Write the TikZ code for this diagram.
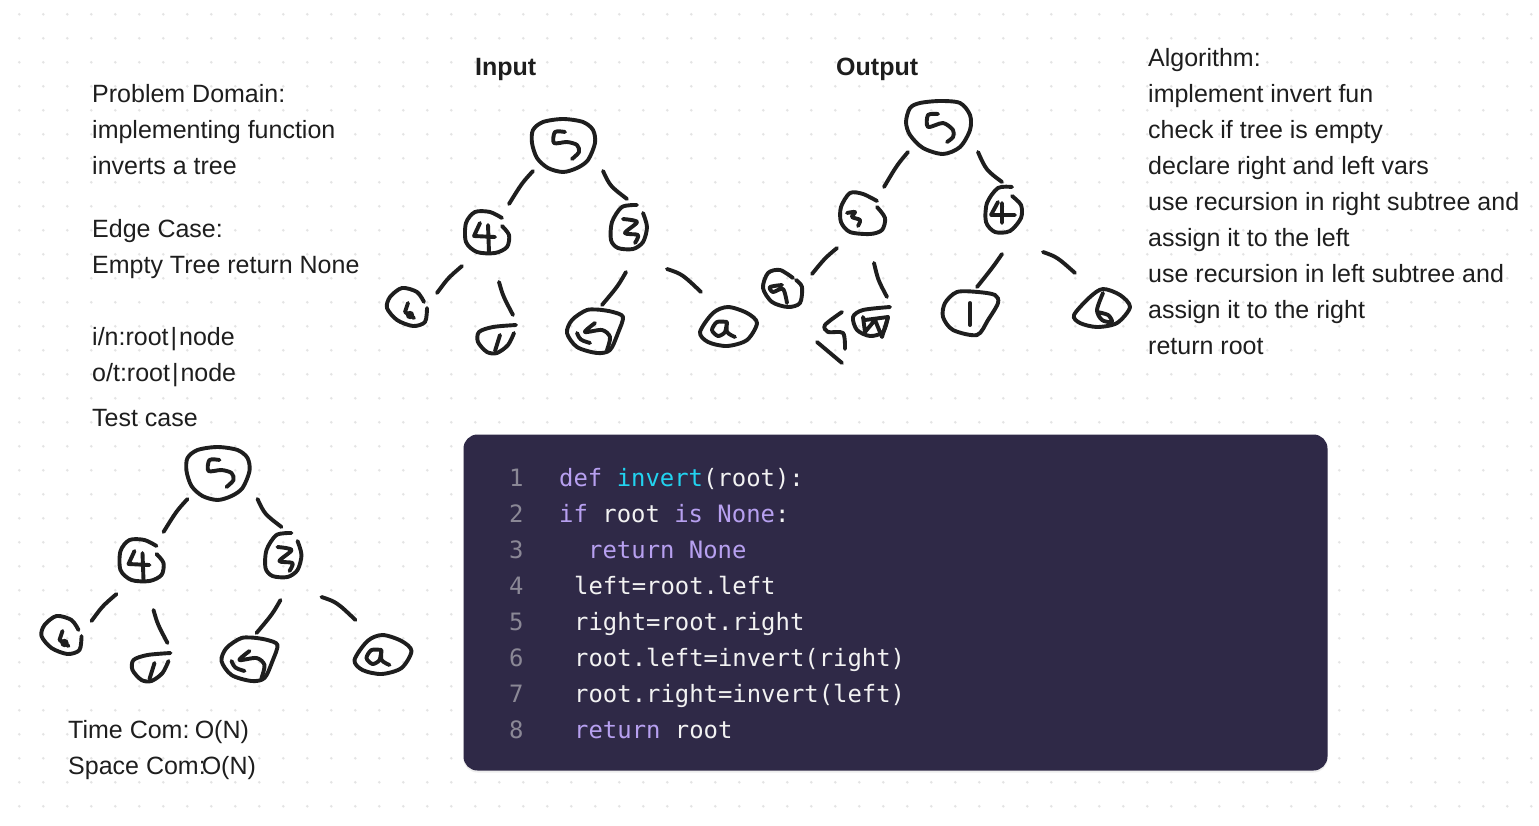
\documentclass[tikz,border=0pt]{standalone}
\usepackage{fontspec}
\setmainfont{Liberation Sans}
\newfontfamily\codefont{DejaVu Sans Mono}
\usetikzlibrary{positioning, shadows}
\definecolor{inkc}{HTML}{1E1E1E}
\definecolor{boxc}{HTML}{2F2947}
\definecolor{kwc}{HTML}{B7A0F0}
\definecolor{fnc}{HTML}{22D3F0}
\definecolor{numc}{HTML}{8B8896}
\definecolor{codec}{HTML}{F2F2F2}
\definecolor{dotc}{HTML}{E4E4E4}
\newcommand{\kw}[1]{\textcolor{kwc}{#1}}
\newcommand{\fn}[1]{\textcolor{fnc}{#1}}
\tikzset{
    hand/.style={draw=inkc, line width=3.9pt, line cap=round, line join=round},
    lbl/.style={anchor=base west, inner sep=0pt, text=inkc, font=\fontsize{25}{36}\selectfont},
    code/.style={anchor=base west, inner sep=0pt, text=codec, font=\codefont\fontsize{23.9}{36}\selectfont},
    num/.style={code, text=numc},
    inputtree/.pic = {
    \coordinate (-a1) at (533,171); \coordinate (-a2) at (509,204);
    \coordinate (-b1) at (603,171); \coordinate (-b2) at (627,199);
    \coordinate (-c1) at (462,266); \coordinate (-c2) at (437,293);
    \coordinate (-d1) at (499,282); \coordinate (-d2) at (513,315);
    \coordinate (-e1) at (626,272); \coordinate (-e2) at (602,305);
    \coordinate (-f1) at (667,269); \coordinate (-f2) at (701,292);
    \draw[hand] (-a1) .. controls (522,183) .. (-a2);
    \draw[hand] (-b1) .. controls (610,186) .. (-b2);
    \draw[hand] (-c1) .. controls (448,278) .. (-c2);
    \draw[hand] (-d1) .. controls (503,296) .. (-d2);
    \draw[hand] (-e1) .. controls (618,286) .. (-e2);
    \draw[hand] (-f1) .. controls (682,274) .. (-f2);
    % root
    \draw[hand] plot[smooth cycle] coordinates {(533,130) (543,122) (563,119) (583,122) (593,130) (595,143) (588,160) (577,168) (563,172) (548,168) (537,158) (532,143)};
    \draw[hand] plot[smooth] coordinates {(565,132) (555,132) (554,143) (567,142) (577,145) (579,152) (572,159)};
    % second row
    \draw[hand] plot[smooth] coordinates {(502,218) (490,212) (475,212) (466,223) (466,242) (477,252) (495,253) (507,247) (509,235) (502,226)};
    \draw[hand] (480,223) -- (474,236) -- (495,237) (488,225) -- (489,252);
    \draw[hand] plot[smooth] coordinates {(637,205) (622,207) (612,222) (611,240) (618,248) (633,249) (643,242) (647,227) (643,213)};
    \draw[hand] plot[smooth] coordinates {(623,219) (637,222) (625,233) (638,235) (635,243)};
    % leaves
    \draw[hand] plot[smooth] coordinates {(424,302) (417,292) (402,288) (390,297) (387,308) (397,320) (413,326) (425,322) (427,308)};
    \draw[hand] (408,303) -- (405,312) (405,312) -- (414,318) (407,313) -- (412,316);
    \fill[inkc] (410,315) circle (4.2);
    \draw[hand] plot[smooth] coordinates {(516,325) (493,327) (479,332) (478,342) (487,352) (497,353) (508,345) (514,333)};
    \draw[hand] (500,335) -- (495,351);
    \draw[hand] plot[smooth] coordinates {(602,310) (587,310) (572,320) (567,333) (577,347) (597,353) (610,350) (618,333) (623,317) (613,312) (602,310)};
    \draw[hand] plot[smooth] coordinates {(595,323) (585,332) (602,330) (610,337) (607,350)};
    \draw[hand] (577,333) .. controls (580,340) .. (590,343);
    \draw[hand] plot[smooth cycle] coordinates {(728,307) (713,313) (700,332) (708,342) (727,346) (747,340) (757,323) (747,313)};
    \draw[hand] plot[smooth] coordinates {(727,322) (717,322) (712,330) (718,336) (725,332) (727,322) (727,332) (735,337)};
    },
}
\begin{document}
\begin{tikzpicture}[x=1pt, y=-1pt]
    \useasboundingbox (0,0) rectangle (1539,825);
    \fill[white] (0,0) rectangle (1539,825);

    % dotted canvas
    \foreach \i in {0,...,63} {
        \foreach \j in {0,...,33} {
            \fill[dotc] (19.3+24*\i, 14.3+24*\j) circle (1.4);
        }
    }

    % notes
    \foreach \txt [count=\i] in {Problem Domain:, implementing function, inverts a tree}
        \node[lbl] (prob\i) at (92, 66+36*\i) {\txt};
    \foreach \txt [count=\i] in {Edge Case:, Empty Tree return None}
        \node[lbl] (edge\i) at (92, 201+36*\i) {\txt};
    \foreach \txt [count=\i] in {i/n:root\kern2pt|\kern2pt node, o/t:root\kern2pt|\kern2pt node}
        \node[lbl] (io\i) at (92, 309+36*\i) {\txt};
    \node[lbl] (test) at (92, 426) {Test case};
    \foreach \txt [count=\i] in {Time Com:\kern-4pt{} O(N), Space Com:\kern-4pt{}O(N)}
        \node[lbl] (com\i) at (68, 702+36*\i) {\txt};
    \foreach \txt [count=\i] in {Algorithm:, implement invert fun, check if tree is empty, declare right and left vars, use recursion in right subtree and, assign it to the left, use recursion in left subtree and, assign it to the right, return root}
        \node[lbl] (algo\i) at (1148, 30+36*\i) {\txt};
    \node[lbl, font=\fontsize{25}{36}\selectfont\bfseries] (input) at (475, 75) {Input};
    \node[lbl, font=\fontsize{25}{36}\selectfont\bfseries] (output) at (836, 75) {Output};

    % input and test case trees
    \pic (inp) at (0,0) {inputtree};
    \pic (tst) at (-345.5,328) {inputtree};

    % output tree
    \coordinate (a1) at (908,152); \coordinate (a2) at (884,187);
    \coordinate (b1) at (978,152); \coordinate (b2) at (1002,182);
    \coordinate (c1) at (837,248); \coordinate (c2) at (812,274);
    \coordinate (d1) at (874,263); \coordinate (d2) at (887,297);
    \coordinate (e1) at (1002,254); \coordinate (e2) at (977,287);
    \coordinate (f1) at (1043,252); \coordinate (f2) at (1075,273);
    \draw[hand] (a1) .. controls (897,165) .. (a2);
    \draw[hand] (b1) .. controls (986,170) .. (b2);
    \draw[hand] (c1) .. controls (825,258) .. (c2);
    \draw[hand] (d1) .. controls (878,280) .. (d2);
    \draw[hand] (e1) .. controls (993,267) .. (e2);
    \draw[hand] (f1) .. controls (1057,257) .. (f2);
    \draw[hand] plot[smooth cycle] coordinates {(910,108) (920,103) (940,101) (960,103) (970,115) (970,130) (960,147) (943,154) (923,148) (910,135) (906,122)};
    \draw[hand] plot[smooth] coordinates {(938,114) (928,115) (928,127) (943,123) (953,130) (953,137) (947,142)};
    \draw[hand] plot[smooth] coordinates {(877,201) (863,194) (850,193) (841,207) (841,222) (850,232) (870,234) (882,230) (885,218) (877,207)};
    \draw[hand] plot[smooth] coordinates {(847,213) (855,212) (852,217) (860,220) (858,226)};
    \draw[hand] plot[smooth] coordinates {(1012,187) (998,188) (987,203) (986,222) (995,232) (1010,231) (1021,218) (1021,205) (1012,196)};
    \draw[hand] (991,215) -- (1015,215) (998,202) -- (991,215) (1002,203) -- (1002,223);
    \draw[hand] plot[smooth] coordinates {(793,278) (780,270) (768,273) (763,288) (772,302) (788,307) (800,303) (802,287) (796,280)};
    \draw[hand] plot[smooth] coordinates {(782,285) (770,287) (773,292) (783,289) (787,303)};
    \draw[hand] plot[smooth] coordinates {(890,307) (863,310) (853,317) (857,330) (870,336) (883,332) (888,317)};
    \draw[hand] (863,317) -- (865,332) -- (875,320) -- (882,337) -- (888,317) -- (865,320);
    \draw[hand] plot[smooth] coordinates {(842,312) (825,325) (828,332) (843,333) (845,349)};
    \draw[hand] (817,342) -- (842,363);
    \draw[hand] plot[smooth cycle] coordinates {(978,292) (957,292) (945,303) (943,317) (953,330) (977,335) (988,320) (998,303) (995,295)};
    \draw[hand] (970,303) -- (970,325);
    \draw[hand] plot[smooth cycle] coordinates {(1103,289) (1090,297) (1074,315) (1080,323) (1097,327) (1117,323) (1130,307) (1120,295)};
    \draw[hand] plot[smooth] coordinates {(1103,293) (1097,310) (1102,320) (1112,322) (1108,315) (1097,312)};

    % code panel
    \node[fill=boxc, rounded corners=14pt, minimum width=864pt, minimum height=336pt, inner sep=0pt, drop shadow={opacity=.14, shadow xshift=0pt, shadow yshift=-2pt}] (panel) at (895.5,602.5) {};
    \foreach \i in {1,...,8}
        \node[num] (n\i) at (509, 450+36*\i) {\i};
    \node[code] (l1) at (559, 486) {\kw{def} \fn{invert}(root):};
    \node[code] (l2) at (559, 522) {\kw{if} root \kw{is} \kw{None}:};
    \node[code] (l3) at (588, 558) {\kw{return None}};
    \node[code] (l4) at (574, 594) {left=root.left};
    \node[code] (l5) at (574, 630) {right=root.right};
    \node[code] (l6) at (574, 666) {root.left=invert(right)};
    \node[code] (l7) at (574, 702) {root.right=invert(left)};
    \node[code] (l8) at (574, 738) {\kw{return} root};
\end{tikzpicture}
\end{document}
